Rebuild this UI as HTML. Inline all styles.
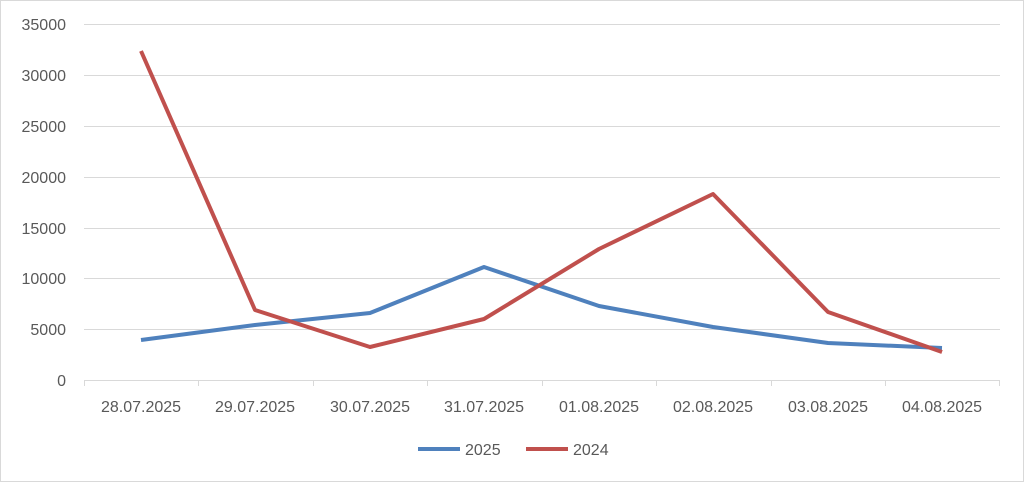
<!DOCTYPE html>
<html><head><style>
body{margin:0;background:#fff;}
svg{display:block;font-family:"Liberation Sans",sans-serif;}
</style></head><body>
<svg width="1024" height="482" viewBox="0 0 1024 482">
<rect x="0.5" y="0.5" width="1023" height="481" fill="#fff" stroke="#d9d9d9"/>
<g stroke="#d9d9d9" stroke-width="1">
<line x1="84" y1="24.5" x2="1000" y2="24.5"/>
<line x1="84" y1="75.5" x2="1000" y2="75.5"/>
<line x1="84" y1="126.5" x2="1000" y2="126.5"/>
<line x1="84" y1="177.5" x2="1000" y2="177.5"/>
<line x1="84" y1="228.5" x2="1000" y2="228.5"/>
<line x1="84" y1="278.5" x2="1000" y2="278.5"/>
<line x1="84" y1="329.5" x2="1000" y2="329.5"/>
<line x1="84" y1="380.5" x2="1000" y2="380.5"/>
<line x1="84.5" y1="380" x2="84.5" y2="386"/>
<line x1="198.5" y1="380" x2="198.5" y2="386"/>
<line x1="313.5" y1="380" x2="313.5" y2="386"/>
<line x1="427.5" y1="380" x2="427.5" y2="386"/>
<line x1="542.5" y1="380" x2="542.5" y2="386"/>
<line x1="656.5" y1="380" x2="656.5" y2="386"/>
<line x1="771.5" y1="380" x2="771.5" y2="386"/>
<line x1="885.5" y1="380" x2="885.5" y2="386"/>
<line x1="999.5" y1="380" x2="999.5" y2="386"/>
</g>
<g fill="#595959" font-size="16" text-anchor="end">
<text x="66" y="30">35000</text>
<text x="66" y="81">30000</text>
<text x="66" y="132">25000</text>
<text x="66" y="183">20000</text>
<text x="66" y="234">15000</text>
<text x="66" y="284">10000</text>
<text x="66" y="335">5000</text>
<text x="66" y="386">0</text>
</g>
<g fill="#595959" font-size="16" text-anchor="middle">
<text x="141" y="412">28.07.2025</text>
<text x="255" y="412">29.07.2025</text>
<text x="370" y="412">30.07.2025</text>
<text x="484" y="412">31.07.2025</text>
<text x="599" y="412">01.08.2025</text>
<text x="713" y="412">02.08.2025</text>
<text x="828" y="412">03.08.2025</text>
<text x="942" y="412">04.08.2025</text>
</g>
<polyline fill="none" stroke="#4f81bd" stroke-width="4" stroke-linejoin="round" points="141,340 255,325 370,313 484,267 599,306 713,327 828,343 942,348"/>
<polyline fill="none" stroke="#c0504d" stroke-width="4" stroke-linejoin="round" points="141,51 255,310 370,347 484,319 599,249 713,194 828,312 942,352"/>
<line x1="418" y1="449" x2="460" y2="449" stroke="#4f81bd" stroke-width="4"/>
<text x="465" y="455" font-size="16" fill="#595959">2025</text>
<line x1="526" y1="449" x2="568" y2="449" stroke="#c0504d" stroke-width="4"/>
<text x="573" y="455" font-size="16" fill="#595959">2024</text>
</svg>
</body></html>
